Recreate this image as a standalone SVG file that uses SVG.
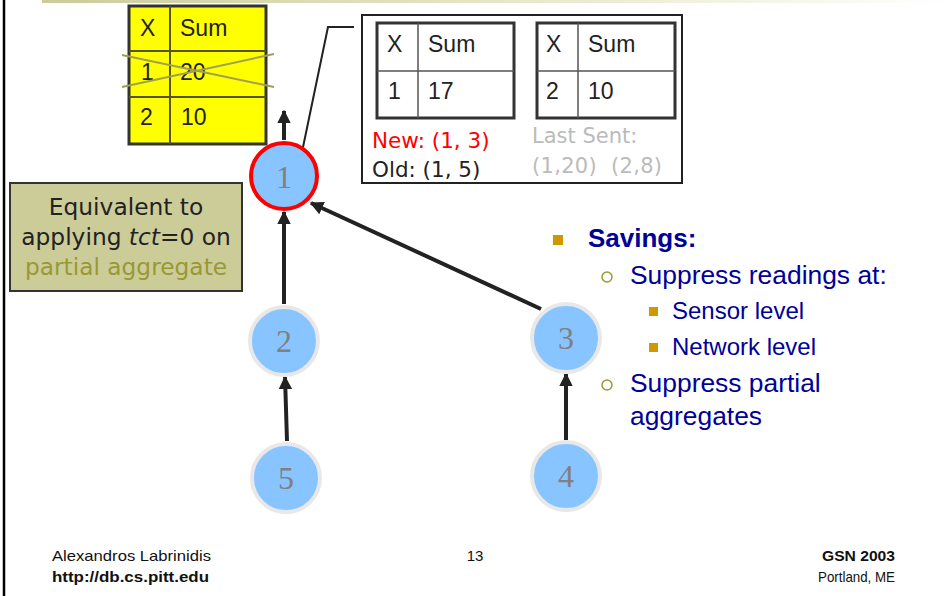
<svg xmlns="http://www.w3.org/2000/svg" width="950" height="596" viewBox="0 0 950 596">
<defs>
<linearGradient id="topg" x1="0" y1="0" x2="1" y2="0">
<stop offset="0" stop-color="#cccc99"/>
<stop offset="0.7" stop-color="#f0f0dc"/>
<stop offset="1" stop-color="#ffffff"/>
</linearGradient>
<marker id="ah" viewBox="0 0 10 10" refX="9" refY="5" markerWidth="3.4" markerHeight="3.4" orient="auto" markerUnits="strokeWidth">
<path d="M0,0 L10,5 L0,10 z" fill="#222"/>
</marker>
<style>
.sans{font-family:"Liberation Sans",Arial,sans-serif;}
.tah{font-family:"DejaVu Sans",Verdana,sans-serif;}
.cell{font-family:"Liberation Sans",Arial,sans-serif;font-size:23px;fill:#222;}
.node circle{fill:#88c4ff;stroke:#e8e8e8;stroke-width:4;}
.node text{font-family:"Liberation Serif","Times New Roman",serif;font-size:32px;fill:#808080;text-anchor:middle;}
.edge{stroke:#222;stroke-width:4;fill:none;marker-end:url(#ah);}
.blue{fill:#000099;}
.foot{font-family:"Liberation Sans",Arial,sans-serif;font-size:15px;fill:#111;}
</style>
</defs>
<rect width="950" height="596" fill="#fff"/>
<rect x="42" y="0" width="908" height="3" fill="url(#topg)"/>
<line x1="4" y1="0" x2="4" y2="596" stroke="#000" stroke-width="2.5"/>

<g id="yellow-table">
<rect x="129" y="6" width="137" height="138" fill="#ffff00" stroke="#333" stroke-width="3"/>
<line x1="170" y1="6" x2="170" y2="144" stroke="#555522" stroke-width="2"/>
<line x1="129" y1="51" x2="266" y2="51" stroke="#555522" stroke-width="2"/>
<line x1="129" y1="97" x2="266" y2="97" stroke="#555522" stroke-width="2"/>
<text class="cell" x="140" y="36">X</text>
<text class="cell" x="180" y="36">Sum</text>
<text class="cell" x="141" y="80">1</text>
<text class="cell" x="180" y="80">20</text>
<text class="cell" x="140" y="125">2</text>
<text class="cell" x="181" y="125">10</text>
<line x1="122" y1="55" x2="274" y2="87" stroke="#a0a050" stroke-width="2"/>
<line x1="122" y1="87" x2="274" y2="54" stroke="#a0a050" stroke-width="2"/>
</g>

<g id="callout">
<polyline points="302,152 328,27 354,27" fill="none" stroke="#222" stroke-width="2"/>
<rect x="362" y="15" width="320" height="168" fill="#fff" stroke="#222" stroke-width="2"/>
<rect x="377" y="23" width="137" height="95" fill="#fff" stroke="#333" stroke-width="3"/>
<line x1="418" y1="23" x2="418" y2="118" stroke="#555" stroke-width="1.5"/>
<line x1="377" y1="71" x2="514" y2="71" stroke="#555" stroke-width="1.5"/>
<text class="cell" x="387" y="52">X</text>
<text class="cell" x="428" y="52">Sum</text>
<text class="cell" x="388" y="99">1</text>
<text class="cell" x="428" y="99">17</text>
<rect x="537" y="23" width="138" height="95" fill="#fff" stroke="#333" stroke-width="3"/>
<line x1="578" y1="23" x2="578" y2="118" stroke="#555" stroke-width="1.5"/>
<line x1="537" y1="71" x2="675" y2="71" stroke="#555" stroke-width="1.5"/>
<text class="cell" x="546" y="52">X</text>
<text class="cell" x="588" y="52">Sum</text>
<text class="cell" x="546" y="99">2</text>
<text class="cell" x="588" y="99">10</text>
<text class="tah" x="372" y="148" font-size="21.5" fill="#ff0000">New: (1, 3)</text>
<text class="tah" x="372" y="177" font-size="21.5" fill="#222">Old: (1, 5)</text>
<text class="tah" x="532" y="143" font-size="21" fill="#bbbbbb">Last Sent:</text>
<text class="tah" x="532" y="173" font-size="21" fill="#bbbbbb" xml:space="preserve" textLength="130">(1,20)  (2,8)</text>
</g>

<g id="note">
<rect x="10" y="183" width="232" height="108" fill="#cccc99" stroke="#333" stroke-width="2"/>
<text class="tah" x="126" y="215" font-size="23.3" fill="#222" text-anchor="middle">Equivalent to</text>
<text class="tah" x="126" y="245" font-size="23.3" fill="#222" text-anchor="middle">applying <tspan font-style="italic">tct</tspan>=0 on</text>
<text class="tah" x="126" y="275" font-size="23.3" fill="#999933" text-anchor="middle">partial aggregate</text>
</g>

<g id="connectors">
<line class="edge" x1="284" y1="140" x2="284" y2="111"/>
<line class="edge" x1="284" y1="304" x2="284" y2="212"/>
<line class="edge" x1="541" y1="309" x2="311" y2="203"/>
<line class="edge" x1="287" y1="441" x2="285" y2="377"/>
<line class="edge" x1="566" y1="440" x2="566" y2="374"/>
</g>

<g id="node1" class="node">
<circle cx="284" cy="176" r="33" style="stroke:#ff0000;stroke-width:4"/>
<text x="284" y="188">1</text>
</g>
<g id="node2" class="node">
<circle cx="284" cy="341" r="34"/>
<text x="284" y="352">2</text>
</g>
<g id="node3" class="node">
<circle cx="566" cy="338" r="34"/>
<text x="566" y="349">3</text>
</g>
<g id="node5" class="node">
<circle cx="286" cy="478" r="34"/>
<text x="286" y="489">5</text>
</g>
<g id="node4" class="node">
<circle cx="566" cy="476" r="34"/>
<text x="566" y="487">4</text>
</g>

<g id="bullets">
<rect x="553" y="235" width="10" height="10" fill="#cc9900"/>
<text class="sans blue" x="588" y="247" font-size="26" font-weight="bold">Savings:</text>
<circle cx="607" cy="277" r="5" fill="none" stroke="#999933" stroke-width="1.5"/>
<text class="sans blue" x="630" y="284" font-size="26.4">Suppress readings at:</text>
<rect x="649" y="307" width="9" height="9" fill="#cc9900"/>
<text class="sans blue" x="672" y="319" font-size="24">Sensor level</text>
<rect x="649" y="343" width="9" height="9" fill="#cc9900"/>
<text class="sans blue" x="672" y="355" font-size="24">Network level</text>
<circle cx="607" cy="385" r="5" fill="none" stroke="#999933" stroke-width="1.5"/>
<text class="sans blue" x="630" y="392" font-size="26.4">Suppress partial</text>
<text class="sans blue" x="630" y="425" font-size="26.4">aggregates</text>
</g>

<g id="footer">
<text class="foot" x="52" y="561" font-size="16" textLength="159" lengthAdjust="spacingAndGlyphs">Alexandros Labrinidis</text>
<text class="foot" x="52" y="582" font-size="16" font-weight="bold" textLength="157" lengthAdjust="spacingAndGlyphs">http://db.cs.pitt.edu</text>
<text class="foot" x="475" y="561" font-size="16" text-anchor="middle">13</text>
<text class="foot" x="895" y="561" font-size="16" text-anchor="end" font-weight="bold" textLength="73" lengthAdjust="spacingAndGlyphs">GSN 2003</text>
<text class="foot" x="895" y="582" font-size="16" text-anchor="end" textLength="77" lengthAdjust="spacingAndGlyphs">Portland, ME</text>
</g>
</svg>
